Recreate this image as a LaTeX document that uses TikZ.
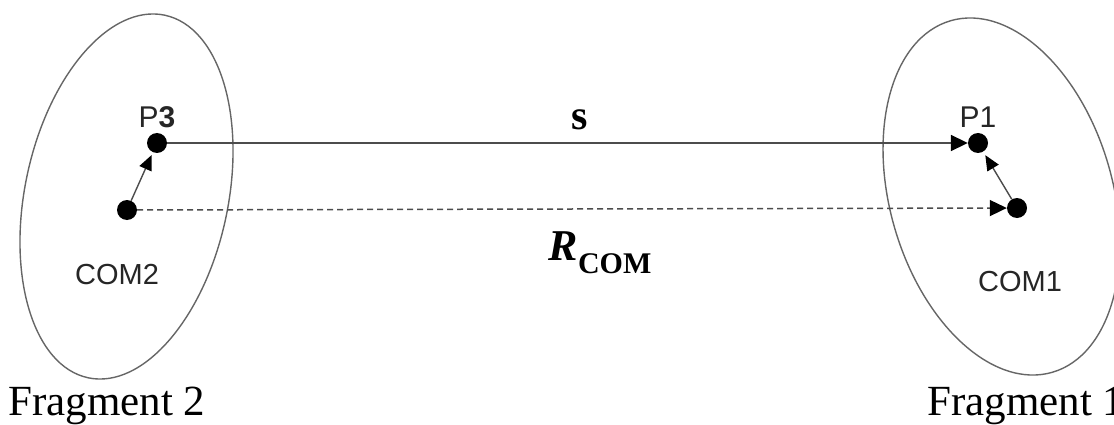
\documentclass[tikz,border=0pt]{standalone}
\usepackage{fontspec}
\setmainfont{Liberation Serif}
\newfontfamily\arialf{Liberation Sans}
\usetikzlibrary{arrows.meta}
\definecolor{lgray}{gray}{0.4}
\definecolor{lineg}{gray}{0.3}
\tikzset{
  dot/.style={circle,fill=black,inner sep=0pt,minimum size=20pt},
  frag/.style={draw=lgray,line width=1.4pt},
  bigarrow/.style={-{Triangle[length=17pt,width=16pt,black]},line width=1.8pt,draw=lineg},
  smallarrow/.style={-{Triangle[length=15pt,width=13pt,black]},line width=1.4pt,draw=lineg},
  sanslabel/.style={font=\arialf\fontsize{29}{32}\selectfont,text=black!85,inner sep=0pt},
  fraglabel/.style={font=\fontsize{43}{48}\selectfont,inner sep=0pt,anchor=base west},
}
\begin{document}
\begin{tikzpicture}[x=1pt,y=1pt]
\useasboundingbox (0,-425) rectangle (1114,0);
% fragments
\draw[frag,rotate around={-11.9:(126.5,-196.5)}] (126.5,-196.5) ellipse (101.6 and 185.3);
\draw[frag,rotate around={16.1:(1001.5,-196.5)}] (1001.5,-196.5) ellipse (111.4 and 183);
% points
\node[dot] (P3) at (157,-143) {};
\node[dot] (COM2) at (127,-210) {};
\node[dot] (P1) at (978,-143) {};
\node[dot] (COM1) at (1017,-208) {};
% connectors
\draw[bigarrow] (P3) -- (P1);
\draw[bigarrow,line width=1.5pt,dash pattern=on 6pt off 4pt] (COM2) -- (COM1);
\draw[smallarrow,shorten >=3pt] (COM2) -- (P3);
\draw[smallarrow,shorten >=4pt] (COM1) -- (P1);
% labels
\node[sanslabel,font=\arialf\fontsize{30}{34}\selectfont] (lP3) at (157,-117) {P\textbf{3}};
\node[sanslabel,font=\arialf\fontsize{30}{34}\selectfont] (lP1) at (978,-117) {P1};
\node[sanslabel] (lC2) at (117,-275) {COM2};
\node[sanslabel] (lC1) at (1020,-282) {COM1};
\node[inner sep=0pt,font=\fontsize{42}{48}\selectfont\bfseries] (ls) at (580,-120) {s};
\node[inner sep=0pt,font=\fontsize{44}{48}\selectfont\bfseries] (lR) at (600,-253) {\textit{R}\raisebox{-0.3em}{\fontsize{30}{34}\selectfont COM}};
\node[fraglabel] (F2) at (8,-415) {Fragment 2};
\node[fraglabel] (F1) at (927,-415) {Fragment 1};
\end{tikzpicture}
\end{document}
